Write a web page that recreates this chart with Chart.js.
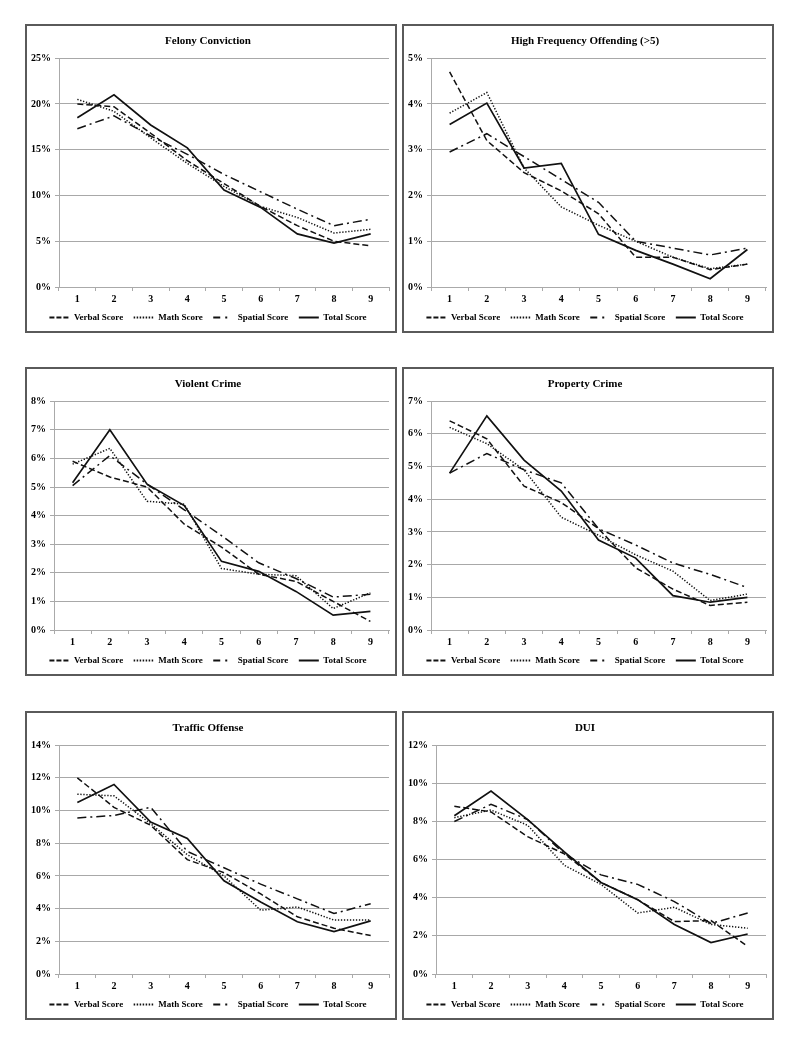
<!DOCTYPE html>
<html>
<head>
<meta charset="utf-8">
<script src="https://cdn.jsdelivr.net/npm/chart.js@4.4.0/dist/chart.umd.min.js"></script>
<style>
body { margin: 0; background: #fff; width: 800px; height: 1046px; position: relative; }
.panel { position: absolute; width: 368px; height: 305px; border: 2px solid #5a5a5a; background: #fff; }
.panel canvas { display: block; }
</style>
</head>
<body>
<div class="panel" style="left:25px;top:24px"><canvas id="c1"></canvas></div>
<div class="panel" style="left:402px;top:24px"><canvas id="c2"></canvas></div>
<div class="panel" style="left:25px;top:367px"><canvas id="c3"></canvas></div>
<div class="panel" style="left:402px;top:367px"><canvas id="c4"></canvas></div>
<div class="panel" style="left:25px;top:711px"><canvas id="c5"></canvas></div>
<div class="panel" style="left:402px;top:711px"><canvas id="c6"></canvas></div>
<script>
const groups = ['1', '2', '3', '4', '5', '6', '7', '8', '9'];
const seriesNames = ['Verbal Score', 'Math Score', 'Spatial Score', 'Total Score'];

// Felony Conviction (%)
const felonyVerbal  = [20.0, 19.7, 16.8, 13.8, 11.3, 8.8, 6.7, 5.0, 4.5];
const felonyMath    = [20.5, 19.2, 16.3, 13.5, 11.0, 8.8, 7.6, 5.9, 6.3];
const felonySpatial = [17.3, 18.7, 16.5, 14.5, 12.3, 10.4, 8.5, 6.7, 7.4];
const felonyTotal   = [18.5, 21.0, 17.7, 15.2, 10.6, 8.7, 5.8, 4.8, 5.8];

// High Frequency Offending (>5)
const highVerbal  = [4.7, 3.2, 2.5, 2.1, 1.6, 0.65, 0.65, 0.38, 0.5];
const highMath    = [3.8, 4.25, 2.6, 1.75, 1.35, 1.0, 0.65, 0.4, 0.5];
const highSpatial = [2.95, 3.35, 2.85, 2.35, 1.85, 1.0, 0.85, 0.7, 0.85];
const highTotal   = [3.55, 4.02, 2.6, 2.7, 1.15, 0.8, 0.5, 0.18, 0.82];

// Violent Crime
const violentVerbal  = [5.9, 5.35, 5.0, 3.7, 2.9, 1.95, 1.7, 1.0, 0.3];
const violentMath    = [5.8, 6.35, 4.5, 4.4, 2.15, 1.95, 1.9, 0.75, 1.3];
const violentSpatial = [5.05, 6.1, 5.1, 4.2, 3.3, 2.35, 1.8, 1.15, 1.25];
const violentTotal   = [5.15, 7.0, 5.1, 4.35, 2.4, 2.05, 1.35, 0.52, 0.65];

// Property Crime
const propertyVerbal  = [6.4, 5.85, 4.4, 3.9, 3.1, 1.9, 1.25, 0.75, 0.85];
const propertyMath    = [6.2, 5.7, 4.9, 3.45, 2.9, 2.3, 1.8, 0.9, 1.1];
const propertySpatial = [4.8, 5.4, 4.9, 4.5, 3.1, 2.6, 2.05, 1.7, 1.3];
const propertyTotal   = [4.8, 6.55, 5.2, 4.25, 2.75, 2.2, 1.05, 0.85, 1.0];

// Traffic Offense
const trafficVerbal  = [12.0, 10.2, 9.1, 7.0, 6.2, 4.9, 3.5, 2.8, 2.35];
const trafficMath    = [11.0, 10.9, 9.2, 7.3, 6.0, 3.9, 4.1, 3.3, 3.3];
const trafficSpatial = [9.55, 9.7, 10.2, 7.5, 6.5, 5.5, 4.6, 3.7, 4.3];
const trafficTotal   = [10.5, 11.6, 9.3, 8.3, 5.7, 4.4, 3.2, 2.6, 3.25];

// DUI
const duiVerbal  = [8.8, 8.5, 7.2, 6.3, 4.8, 3.9, 2.75, 2.8, 1.45];
const duiMath    = [8.2, 8.6, 7.8, 5.7, 4.7, 3.2, 3.5, 2.6, 2.4];
const duiSpatial = [8.0, 8.9, 8.1, 6.3, 5.2, 4.7, 3.8, 2.65, 3.2];
const duiTotal   = [8.3, 9.6, 8.1, 6.4, 4.8, 3.9, 2.6, 1.65, 2.1];

const dashes = [[6, 3], [1.3, 1.7], [9, 4, 2, 4], []];
const legendDashes = [[5, 2], [1.5, 1.5], [7, 5, 2, 8], []];
const serif = '"Liberation Serif", "Times New Roman", serif';

function makeChart(id, title, series, yMax, yStep) {
  const ctx = document.getElementById(id).getContext('2d');
  new Chart(ctx, {
    type: 'line',
    data: {
      labels: groups,
      datasets: series.map((vals, i) => ({
        label: seriesNames[i],
        data: vals,
        borderColor: '#111',
        backgroundColor: '#111',
        borderWidth: i === 3 ? 1.7 : 1.5,
        borderDash: dashes[i],
        pointRadius: 0,
        tension: 0,
        fill: false
      }))
    },
    options: {
      responsive: false,
      animation: false,
      devicePixelRatio: 1,
      layout: { padding: { left: 0, right: 6, top: 0, bottom: -1 } },
      plugins: {
        title: {
          display: true,
          text: title,
          color: '#000',
          font: { family: serif, size: 11, weight: 'bold' },
          padding: { top: 9, bottom: 10 }
        },
        legend: {
          position: 'bottom',
          labels: {
            color: '#000',
            font: { family: serif, size: 9, weight: 'bold' },
            usePointStyle: true,
            pointStyle: 'line',
            pointStyleWidth: 20,
            boxWidth: 20,
            boxHeight: 8,
            padding: 6,
            generateLabels: chart => {
              const items = Chart.defaults.plugins.legend.labels.generateLabels(chart);
              items.forEach((it, i) => {
                it.lineDash = legendDashes[i];
                it.lineWidth = 2;
                it.strokeStyle = '#111';
                // a little more room between entries than the vertical padding
                if (i < items.length - 1) it.text = it.text + '  ';
              });
              return items;
            }
          }
        },
        tooltip: { enabled: false }
      },
      scales: {
        x: {
          offset: true,
          grid: {
            display: true,
            offset: true,
            drawOnChartArea: false,
            drawTicks: true,
            tickLength: 4,
            color: '#aaa'
          },
          border: { color: '#aaa' },
          ticks: {
            color: '#000',
            font: { family: serif, size: 10, weight: 'bold' },
            padding: 2
          }
        },
        y: {
          min: 0,
          max: yMax,
          grid: { color: '#a8a8a8', tickLength: 4 },
          border: { color: '#aaa' },
          ticks: {
            stepSize: yStep,
            color: '#000',
            font: { family: serif, size: 10, weight: 'bold' },
            padding: 4,
            callback: v => v + '%'
          }
        }
      }
    }
  });
}

function sizeCanvas(id) {
  const c = document.getElementById(id);
  c.width = 368;
  c.height = 305;
  c.style.width = '368px';
  c.style.height = '305px';
}
['c1', 'c2', 'c3', 'c4', 'c5', 'c6'].forEach(sizeCanvas);

makeChart('c1', 'Felony Conviction', [felonyVerbal, felonyMath, felonySpatial, felonyTotal], 25, 5);
makeChart('c2', 'High Frequency Offending (>5)', [highVerbal, highMath, highSpatial, highTotal], 5, 1);
makeChart('c3', 'Violent Crime', [violentVerbal, violentMath, violentSpatial, violentTotal], 8, 1);
makeChart('c4', 'Property Crime', [propertyVerbal, propertyMath, propertySpatial, propertyTotal], 7, 1);
makeChart('c5', 'Traffic Offense', [trafficVerbal, trafficMath, trafficSpatial, trafficTotal], 14, 2);
makeChart('c6', 'DUI', [duiVerbal, duiMath, duiSpatial, duiTotal], 12, 2);
</script>
</body>
</html>
